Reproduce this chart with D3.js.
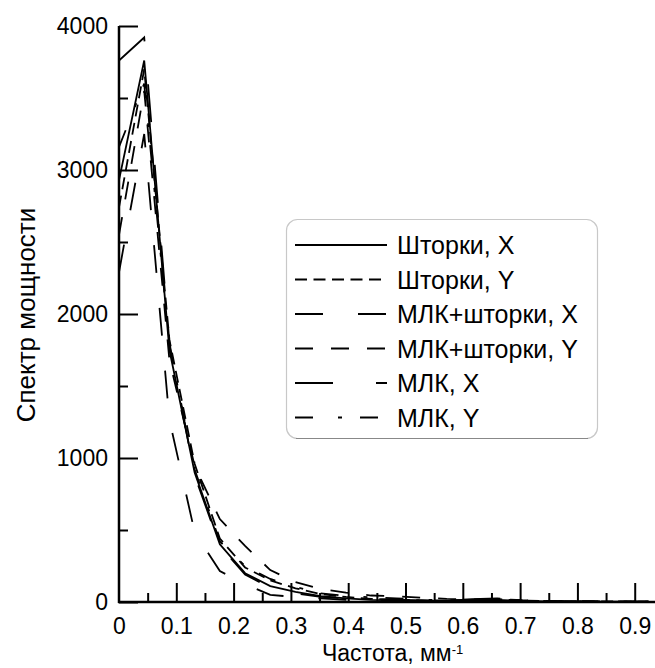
<!DOCTYPE html>
<html><head><meta charset="utf-8">
<script src="https://cdn.jsdelivr.net/npm/d3@7"></script>
<style>body{margin:0;background:#fff}svg{display:block}text{font-family:"Liberation Sans",Arial,sans-serif;fill:#000}</style>
</head><body><svg id="c" width="655" height="668"></svg>
<script>
const freq = [0,0.044,0.088,0.132,0.176,0.22,0.264,0.308,0.352,0.396,0.44,0.484,0.528,0.572,0.616,0.66,0.704,0.748,0.792,0.836,0.88,0.924];
const shtorkiX = [2930,3760,1750,900,400,200,110,70,40,25,15,12,10,8,12,15,8,5,4,3,3,2];
const shtorkiY = [2740,3700,1820,960,440,240,150,95,55,35,22,16,12,10,14,20,10,6,5,4,3,3];
const mlkShtX  = [2290,3250,1264,486,215,125,49,35,25,15,10,8,6,5,6,8,5,4,3,3,2,2];
const mlkShtY  = [2550,3550,1680,944,576,389,222,139,90,65,45,40,30,22,18,22,12,8,6,5,4,3];
const mlkX     = [3760,3920,1800,880,390,190,100,60,35,25,18,14,10,9,20,25,12,6,5,4,3,3];
const mlkY     = [3160,3600,1780,920,420,250,160,105,60,42,32,25,16,12,15,18,10,6,5,4,3,3];
const seriesNames = ["Шторки, X","Шторки, Y","МЛК+шторки, X","МЛК+шторки, Y","МЛК, X","МЛК, Y"];
const seriesData = [shtorkiX,shtorkiY,mlkShtX,mlkShtY,mlkX,mlkY];
const dashes = [null,"12,6.5","28,35","18,18","38,43","18,25,4,18"];
const yTicks = [0,1000,2000,3000,4000];
const xTicks = [0,0.1,0.2,0.3,0.4,0.5,0.6,0.7,0.8,0.9];

const svg = d3.select("#c");
const x = d3.scaleLinear().domain([0,0.9354]).range([119,655]);
const y = d3.scaleLinear().domain([0,4000]).range([602,26]);

svg.append("defs").append("clipPath").attr("id","clip")
  .append("rect").attr("x",119).attr("y",0).attr("width",536).attr("height",603);

// curves
const line = d3.line().x((d,i)=>x(freq[i])).y(d=>y(d));
const g = svg.append("g").attr("clip-path","url(#clip)");
seriesData.forEach((s,k)=>{
  g.append("path").attr("d",line(s)).attr("fill","none").attr("stroke","#000")
   .attr("stroke-width",1.8).attr("stroke-dasharray",dashes[k]);
});

// axes
const xMinor = d3.range(0.05,0.95,0.1);
const xa = svg.append("g").attr("transform","translate(0,602)")
  .call(d3.axisBottom(x).tickValues(xTicks).tickSize(-19).tickSizeOuter(0).tickPadding(16).tickFormat(d=>d===0?"0":d3.format(".1f")(d)));
svg.append("g").attr("transform","translate(0,602)")
  .call(d3.axisBottom(x).tickValues(xMinor).tickSize(-9).tickSizeOuter(0).tickFormat(""));
const ya = svg.append("g").attr("transform","translate(119,0)")
  .call(d3.axisLeft(y).tickValues(yTicks).tickSize(-19).tickSizeOuter(0).tickPadding(11).tickFormat(d3.format("d")));
svg.append("g").attr("transform","translate(119,0)")
  .call(d3.axisLeft(y).tickValues([500,1500,2500,3500]).tickSize(-9).tickSizeOuter(0).tickFormat(""));
svg.selectAll(".domain").remove();
svg.selectAll(".tick line").attr("stroke","#000").attr("stroke-width",2);
svg.selectAll(".tick text").attr("font-size",23).style("font-family","'Liberation Sans',Arial,sans-serif");
xa.selectAll(".tick").filter(d=>d===0).select("line").remove();
svg.append("line").attr("x1",119).attr("x2",119).attr("y1",26).attr("y2",603).attr("stroke","#000").attr("stroke-width",2.5);
svg.append("line").attr("x1",118).attr("x2",655).attr("y1",602).attr("y2",602).attr("stroke","#000").attr("stroke-width",2.5);

// titles
const xt = svg.append("text").attr("x",322).attr("y",661).attr("font-size",23);
xt.append("tspan").text("Частота, мм");
xt.append("tspan").attr("font-size",13).attr("dy",-7).text("-1");
svg.append("text").attr("transform","translate(35,315) rotate(-90)").attr("text-anchor","middle")
  .attr("font-size",26).text("Спектр мощности");

// legend
const lg = svg.append("g");
lg.append("rect").attr("x",286.5).attr("y",219.5).attr("width",311).attr("height",219).attr("rx",11)
  .attr("fill","#fff").attr("stroke","#c8c8c8").attr("stroke-width",1.2);
lg.append("path").attr("d","M296,438.5 H588").attr("stroke","#888").attr("stroke-width",1.2);
seriesNames.forEach((n,k)=>{
  const yy = 245 + k*34.5;
  lg.append("line").attr("x1",295).attr("x2",387).attr("y1",yy).attr("y2",yy)
    .attr("stroke","#000").attr("stroke-width",2).attr("stroke-dasharray",dashes[k]);
  lg.append("text").attr("x",397).attr("y",yy).attr("dy","0.36em").attr("font-size",25).text(n);
});
</script></body></html>
